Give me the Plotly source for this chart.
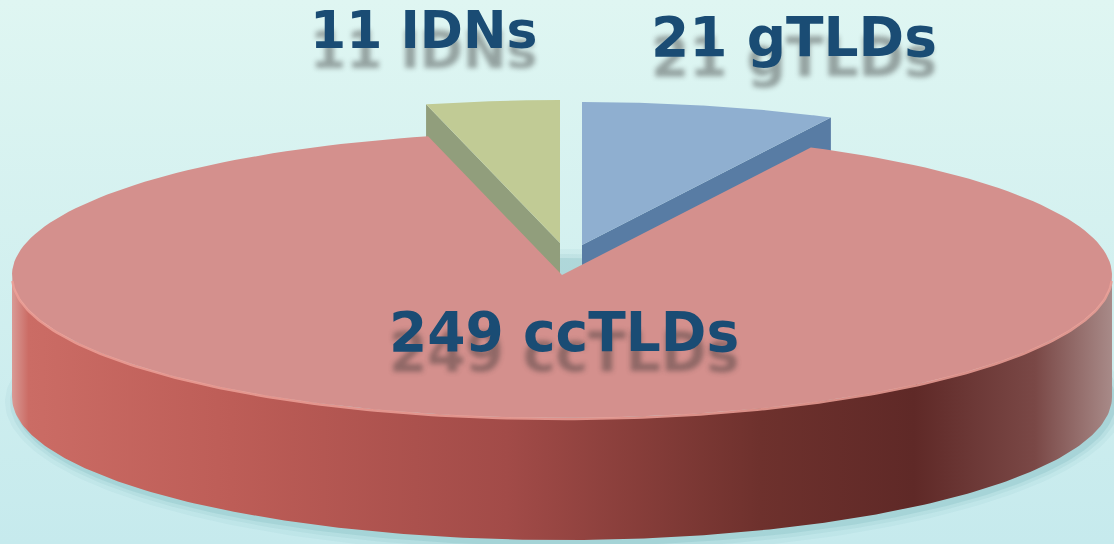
import numpy as np
import plotly.graph_objects as go

# ---- data ----
categories = ["gTLDs", "ccTLDs", "IDNs"]   # clockwise from 12 o'clock
values = [21, 249, 11]
label_texts = [f"{v} {c}" for c, v in zip(categories, values)]

# ---- style / geometry ----
W, H = 1114, 544
CX, CY = 562, 275
RX, RY = 550, 143
DEPTH = 122
top_colors = {"gTLDs": "#8fafd0", "ccTLDs": "#d4908d", "IDNs": "#c1cb95"}
side_colors = {"gTLDs": "#587ca4", "ccTLDs": "#a94f4b", "IDNs": "#919e7c"}
offsets = {"gTLDs": (20, -30), "ccTLDs": (0, 0), "IDNs": (-2, -32)}
label_pos = {"gTLDs": (794, 37), "ccTLDs": (564, 332), "IDNs": (423, 30)}
label_size = {"gTLDs": 55, "ccTLDs": 55, "IDNs": 52}
red_side_scale = [[0, "#d99a95"], [0.015, "#cb6c65"], [0.2, "#bd5d57"],
                  [0.45, "#a24b48"], [0.68, "#6e312d"], [0.82, "#5f2927"],
                  [0.93, "#7a4846"], [1, "#a88a88"]]


def pt(theta, dx=0.0, dy=0.0, dz=0.0):
    t = np.radians(theta)
    return CX + dx + RX * np.sin(t), CY + dy - RY * np.cos(t) + dz


def arc(t0, t1, dx=0.0, dy=0.0, dz=0.0, n=200):
    th = np.linspace(t0, t1, n)
    return pt(th, dx, dy, dz)


fig = go.Figure()


def poly(xs, ys, color=None, gradient=None):
    xs = list(xs) + [xs[0]]
    ys = list(ys) + [ys[0]]
    kw = dict(x=xs, y=ys, mode="lines", fill="toself", line=dict(width=0),
              hoverinfo="skip", showlegend=False)
    if gradient is not None:
        kw["fillgradient"] = gradient
        kw["fillcolor"] = "rgba(0,0,0,0)"
    else:
        kw["fillcolor"] = color
    fig.add_trace(go.Scatter(**kw))


# background gradient (light at top, slightly deeper cyan at bottom)
poly([0, W, W, 0], [0, 0, H, H],
     gradient=dict(type="vertical", colorscale=[[0, "#c6eaed"], [1, "#dff6f2"]]))

# soft shadow under the pie
for grow, alpha in [(10, 0.05), (5, 0.08), (1, 0.12)]:
    th = np.linspace(0, 360, 300)
    t = np.radians(th)
    poly(CX + 3 + (RX + grow) * np.sin(t), CY + DEPTH + 5 - (RY + grow) * np.cos(t),
         color=f"rgba(60,140,150,{alpha})")

# angles from values
total = sum(values)
ends = np.cumsum(values) / total * 360.0
starts = np.concatenate([[0.0], ends[:-1]])
wedges = {c: (s, e) for c, s, e in zip(categories, starts, ends)}

# draw exploded (back) wedges first, then the main one
order = sorted(categories, key=lambda c: offsets[c][1])
for c in order:
    t0, t1 = wedges[c]
    dx, dy = offsets[c]
    # outer visible side (front half 90..270)
    v0, v1 = max(t0, 90), min(t1, 270)
    if v1 > v0:
        ax, ay = arc(v0, v1, dx, dy)
        bx, by = arc(v1, v0, dx, dy, DEPTH)
        if c == "ccTLDs":
            poly(np.concatenate([ax, bx]), np.concatenate([ay, by]),
                 gradient=dict(type="horizontal", colorscale=red_side_scale))
        else:
            poly(np.concatenate([ax, bx]), np.concatenate([ay, by]), color=side_colors[c])
    # radial faces that face the viewer
    for ang, sign in [(t0, -1), (t1, 1)]:
        nrm = np.radians(ang + 90 * sign)
        if -np.cos(nrm) > 0.05 and c != "ccTLDs":
            px, py = pt(ang, dx, dy)
            xs = [CX + dx, px, px, CX + dx]
            ys = [CY + dy, py, py + DEPTH, CY + dy + DEPTH]
            poly(xs, ys, color=side_colors[c])
    # top face
    ax, ay = arc(t0, t1, dx, dy)
    poly(np.concatenate([[CX + dx], ax]), np.concatenate([[CY + dy], ay]),
         color=top_colors[c])

# rim highlight on the front edge of the main wedge
hx, hy = arc(92, 268)
fig.add_trace(go.Scatter(x=hx, y=hy + 1, mode="lines",
                         line=dict(color="rgba(236,160,152,0.85)", width=2.5),
                         hoverinfo="skip", showlegend=False))

# labels
for c, txt in zip(categories, label_texts):
    x, y = label_pos[c]
    fig.add_annotation(x=x, y=y, text=txt, showarrow=False, xanchor="center",
                       yanchor="middle",
                       font=dict(family="DejaVu Sans", size=label_size[c],
                                 color="#1a4c74", weight="bold",
                                 shadow="0px 20px 5px rgba(50,50,50,0.42)"))

fig.update_layout(
    width=W, height=H, margin=dict(l=0, r=0, t=0, b=0),
    paper_bgcolor="#d6f2f0", plot_bgcolor="rgba(0,0,0,0)",
    xaxis=dict(range=[0, W], visible=False, fixedrange=True),
    yaxis=dict(range=[H, 0], visible=False, fixedrange=True),
    showlegend=False,
)

fig.write_html("out.html", config={"displayModeBar": False},
               post_script="document.body.style.margin='0';"
                           "document.body.style.overflow='hidden';")
